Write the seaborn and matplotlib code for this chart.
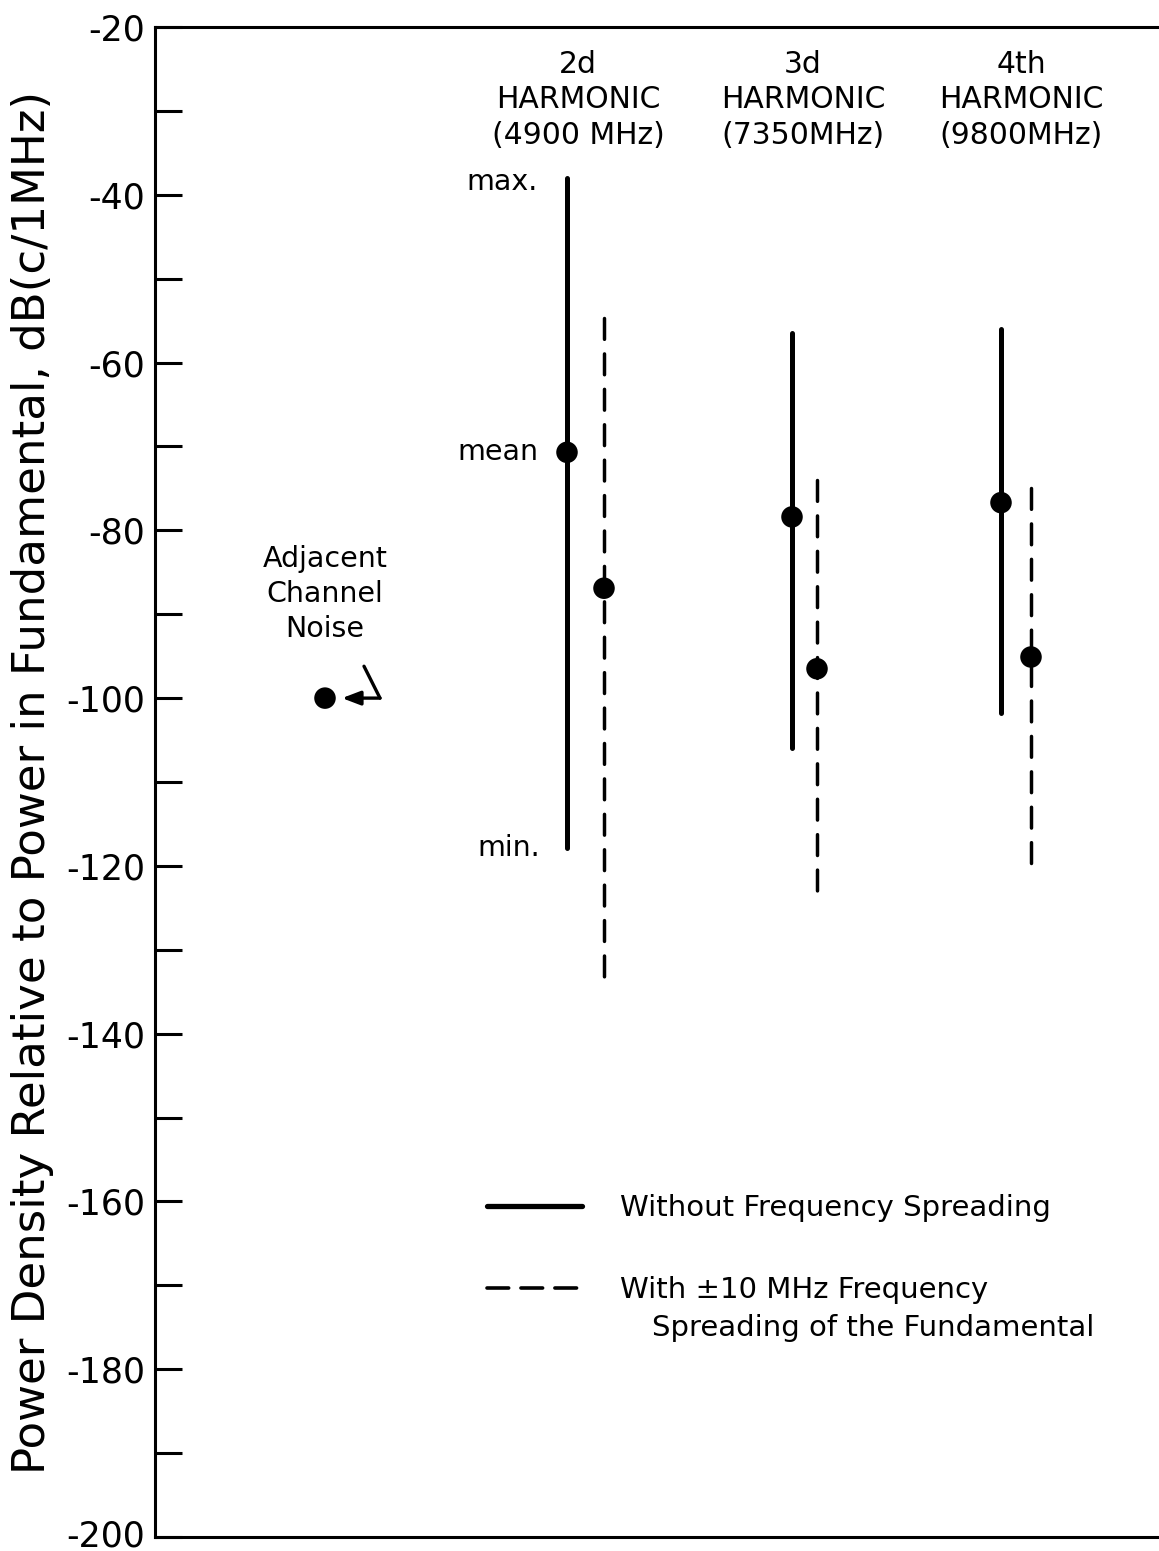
import matplotlib
matplotlib.use("Agg")
import matplotlib.pyplot as plt
from matplotlib.ticker import MultipleLocator
from matplotlib.lines import Line2D
import matplotlib.transforms as mtransforms
import numpy as np
import pandas as pd
import seaborn as sns

# ---------------- data ----------------
harmonics = ["2d", "3d", "4th"]
heading_labels = ["2d\nHARMONIC\n(4900 MHz)", "3d\nHARMONIC\n(7350MHz)", "4th\nHARMONIC\n(9800MHz)"]
max_without = [-38.0, -56.5, -56.0]
mean_without = [-70.7, -78.4, -76.7]
min_without = [-117.9, -105.9, -101.8]
max_with = [-54.7, -74.0, -74.9]
mean_with = [-86.9, -96.5, -95.1]
min_with = [-134.7, -123.6, -119.7]
noise_value = [-100.0]
yticks_major = list(range(-200, -19, 20))

# ---------------- layout (not data) ----------------
x_without = [4.12, 6.37, 8.46]
x_with = [4.49, 6.62, 8.76]
x_heading = [4.23, 6.48, 8.66]
x_noise = 1.70

sns.set_style("ticks")
plt.rcParams["font.family"] = ["DejaVu Sans"]
plt.rcParams["axes.unicode_minus"] = False
for k in ("text.color", "axes.labelcolor", "xtick.color", "ytick.color",
          "axes.edgecolor", "xtick.labelcolor", "ytick.labelcolor"):
    plt.rcParams[k] = "black"

rows = []
for i, h in enumerate(harmonics):
    for v in (max_without[i], min_without[i]):
        rows.append({"harm": h, "cond": "without", "x": x_without[i], "value": v, "key": h + "_without"})
    for v in (max_with[i], min_with[i]):
        rows.append({"harm": h, "cond": "with", "x": x_with[i], "value": v, "key": h + "_with"})
df = pd.DataFrame(rows)

means = pd.DataFrame({
    "x": x_without + x_with + [x_noise],
    "value": mean_without + mean_with + noise_value,
})

fig = plt.figure(figsize=(11.59, 15.51), dpi=100)
ax = fig.add_axes([155 / 1159, 14 / 1551, (1200 - 155) / 1159, 1510 / 1551])

sns.lineplot(data=df, x="x", y="value", units="key", estimator=None, sort=False,
             style="cond", style_order=["without", "with"],
             dashes={"without": "", "with": (6.0, 4.2)},
             size="cond", sizes={"without": 3.6, "with": 2.5},
             color="black", legend=False, ax=ax)
for ln in ax.lines:
    ln.set_solid_capstyle("round")
    ln.set_dash_capstyle("round")

sns.scatterplot(data=means, x="x", y="value", s=240, color="black",
                edgecolor="none", legend=False, ax=ax, zorder=5)

ax.set_xlim(0, 10.45)
ax.set_ylim(-200, -20)
ax.set_xticks([])
ax.yaxis.set_major_locator(MultipleLocator(20))
ax.yaxis.set_minor_locator(MultipleLocator(10))
ax.tick_params(axis="y", which="both", direction="in", length=19.5, width=2.2,
               pad=7, left=True, right=False, colors="black")
ax.set_yticks(yticks_major)
ax.set_yticklabels([str(t) for t in yticks_major], fontsize=25)
# nudge the bottom label up slightly so it stays inside the canvas
lbl0 = ax.get_yticklabels()[0]
lbl0.set_transform(lbl0.get_transform() +
                   mtransforms.ScaledTranslation(0, 4 / 100, fig.dpi_scale_trans))
for s in ("left", "bottom", "top"):
    ax.spines[s].set_linewidth(2.2)
    ax.spines[s].set_color("black")
ax.spines["right"].set_visible(False)
ax.set_xlabel("")
ax.set_ylabel("Power Density Relative to Power in Fundamental, dB(c/1MHz)",
              fontsize=32.5, labelpad=9)

# headings
for xh, lab in zip(x_heading, heading_labels):
    ax.text(xh, -28.7, lab, ha="center", va="center", fontsize=21.5, linespacing=1.3)

# max / mean / min annotations
ax.text(3.83, -38.5, "max.", ha="right", va="center", fontsize=20.5)
ax.text(3.83, mean_without[0], "mean", ha="right", va="center", fontsize=20.5)
ax.text(3.85, -117.9, "min.", ha="right", va="center", fontsize=20.5)

# adjacent channel noise label + arrow
ax.text(x_noise, -87.6, "Adjacent\nChannel\nNoise", ha="center", va="center",
        fontsize=20.5, linespacing=1.3)
ax.annotate("", xy=(1.87, noise_value[0]), xytext=(2.25, noise_value[0]),
            arrowprops=dict(arrowstyle="-|>,head_length=1.1,head_width=0.42",
                            color="black", lw=2.4, shrinkA=0, shrinkB=0))
ax.plot([2.25, 2.09], [noise_value[0], -96.2], color="black", lw=2.4,
        solid_capstyle="round")

# legend
handles = [Line2D([], [], color="black", lw=3.8, solid_capstyle="round"),
           Line2D([], [], color="black", lw=2.6, dashes=(6.0, 3.4), dash_capstyle="round")]
leg = ax.legend(handles, ["Without Frequency Spreading", "With \u00b110 MHz Frequency"],
                loc="upper left", bbox_to_anchor=(487 / 1159, 1 - 1194 / 1551),
                bbox_transform=fig.transFigure, frameon=False, fontsize=21,
                handlelength=3.25, handletextpad=1.3, labelspacing=1.85,
                borderpad=0, borderaxespad=0)
fig.text(652 / 1159, 1 - 1328 / 1551, "Spreading of the Fundamental",
         ha="left", va="center", fontsize=21)

fig.savefig("out.png", dpi=100)
